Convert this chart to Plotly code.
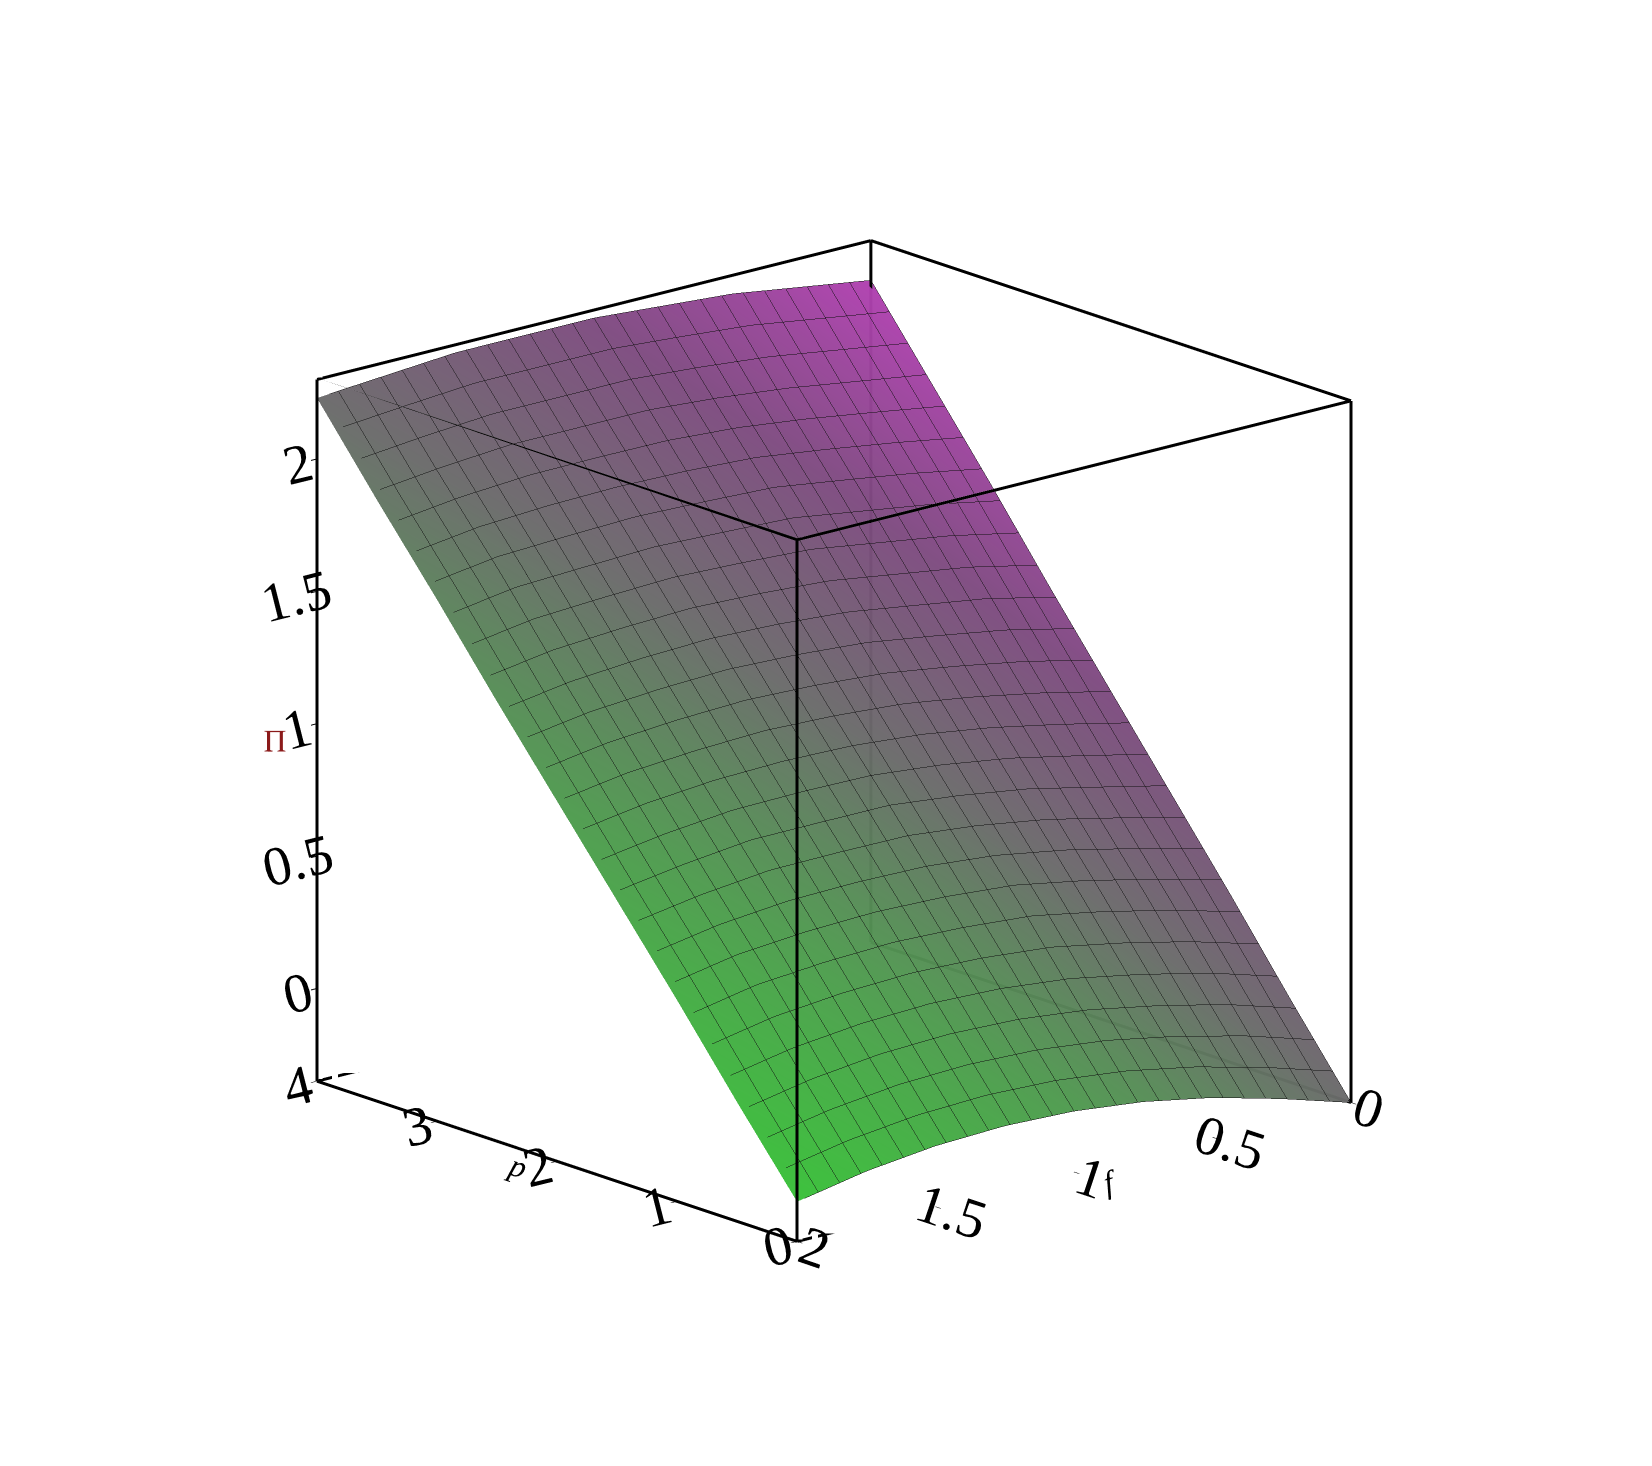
import plotly.graph_objects as go
import numpy as np

p_vals = [0, 0.5, 1, 1.5, 2, 2.5, 3, 3.5, 4]
f_vals = [0, 0.25, 0.5, 0.75, 1, 1.25, 1.5, 1.75, 2]
# Pi values, rows = p, columns = f
Pi = [
    [-0.35, -0.27, -0.20, -0.15, -0.12, -0.11, -0.12, -0.15, -0.20],
    [-0.04, 0.04, 0.10, 0.15, 0.18, 0.19, 0.18, 0.15, 0.10],
    [0.28, 0.35, 0.41, 0.46, 0.48, 0.49, 0.48, 0.46, 0.41],
    [0.59, 0.65, 0.71, 0.75, 0.78, 0.78, 0.78, 0.75, 0.71],
    [0.90, 0.96, 1.01, 1.05, 1.07, 1.08, 1.07, 1.05, 1.01],
    [1.21, 1.27, 1.31, 1.35, 1.37, 1.38, 1.37, 1.35, 1.31],
    [1.53, 1.58, 1.62, 1.66, 1.67, 1.68, 1.67, 1.66, 1.62],
    [1.84, 1.88, 1.92, 1.95, 1.97, 1.97, 1.97, 1.95, 1.92],
    [2.15, 2.19, 2.23, 2.25, 2.27, 2.27, 2.27, 2.25, 2.23],
]

P, F = np.meshgrid(p_vals, f_vals, indexing="ij")
Z = np.array(Pi)
color = F - P / 2.0

fig = go.Figure()
fig.add_trace(go.Surface(
    x=P, y=F, z=Z, surfacecolor=color, cmin=-2, cmax=2,
    colorscale=[[0, "#b040b0"], [0.25, "#7e4a80"], [0.5, "#6a6a6a"], [0.75, "#4e9a4e"], [1, "#38c038"]],
    showscale=False, opacity=0.97,
    lighting=dict(ambient=0.85, diffuse=0.35, specular=0.05),
    contours=dict(
        x=dict(show=True, start=0, end=4, size=4 / 26, color="#111", width=2),
        y=dict(show=True, start=0, end=2, size=2 / 26, color="#111", width=2),
    ),
))

xr, yr, zr = [0, 4], [0, 2], [-0.35, 2.3]
ex, ey, ez = [], [], []
corners = [(a, b, c) for a in xr for b in yr for c in zr]
for i, c1 in enumerate(corners):
    for c2 in corners[i + 1:]:
        if sum(u != v for u, v in zip(c1, c2)) == 1:
            ex += [c1[0], c2[0], None]; ey += [c1[1], c2[1], None]; ez += [c1[2], c2[2], None]
fig.add_trace(go.Scatter3d(x=ex, y=ey, z=ez, mode="lines", line=dict(color="black", width=6),
                           showlegend=False, hoverinfo="skip"))

tf = dict(size=26, family="Liberation Serif", color="black")
common = dict(showbackground=False, showgrid=False, zeroline=False, showspikes=False,
              ticks="outside", ticklen=8, tickwidth=2, tickcolor="black", tickfont=tf)
fig.update_layout(
    width=1652, height=1466, paper_bgcolor="white", margin=dict(l=0, r=0, t=0, b=0),
    font=dict(family="Liberation Serif", size=26, color="black"),
    scene=dict(
        xaxis=dict(common, range=xr, dtick=1,
                   title=dict(text="<i>p</i>", font=dict(size=32))),
        yaxis=dict(common, range=yr, dtick=0.5,
                   title=dict(text="<i>f</i>", font=dict(size=32))),
        zaxis=dict(common, range=zr, tickvals=[0, 0.5, 1, 1.5, 2],
                   ticktext=["0", "0.5", "1", "1.5", "2"],
                   title=dict(text="Π", font=dict(size=32, color="#8b1a1a"))),
        aspectmode="manual", aspectratio=dict(x=1, y=1, z=1.0),
        camera=dict(eye=dict(x=-1.5, y=1.3, z=0.6), projection=dict(type="orthographic")),
    ),
)
fig.write_html("out.html")
